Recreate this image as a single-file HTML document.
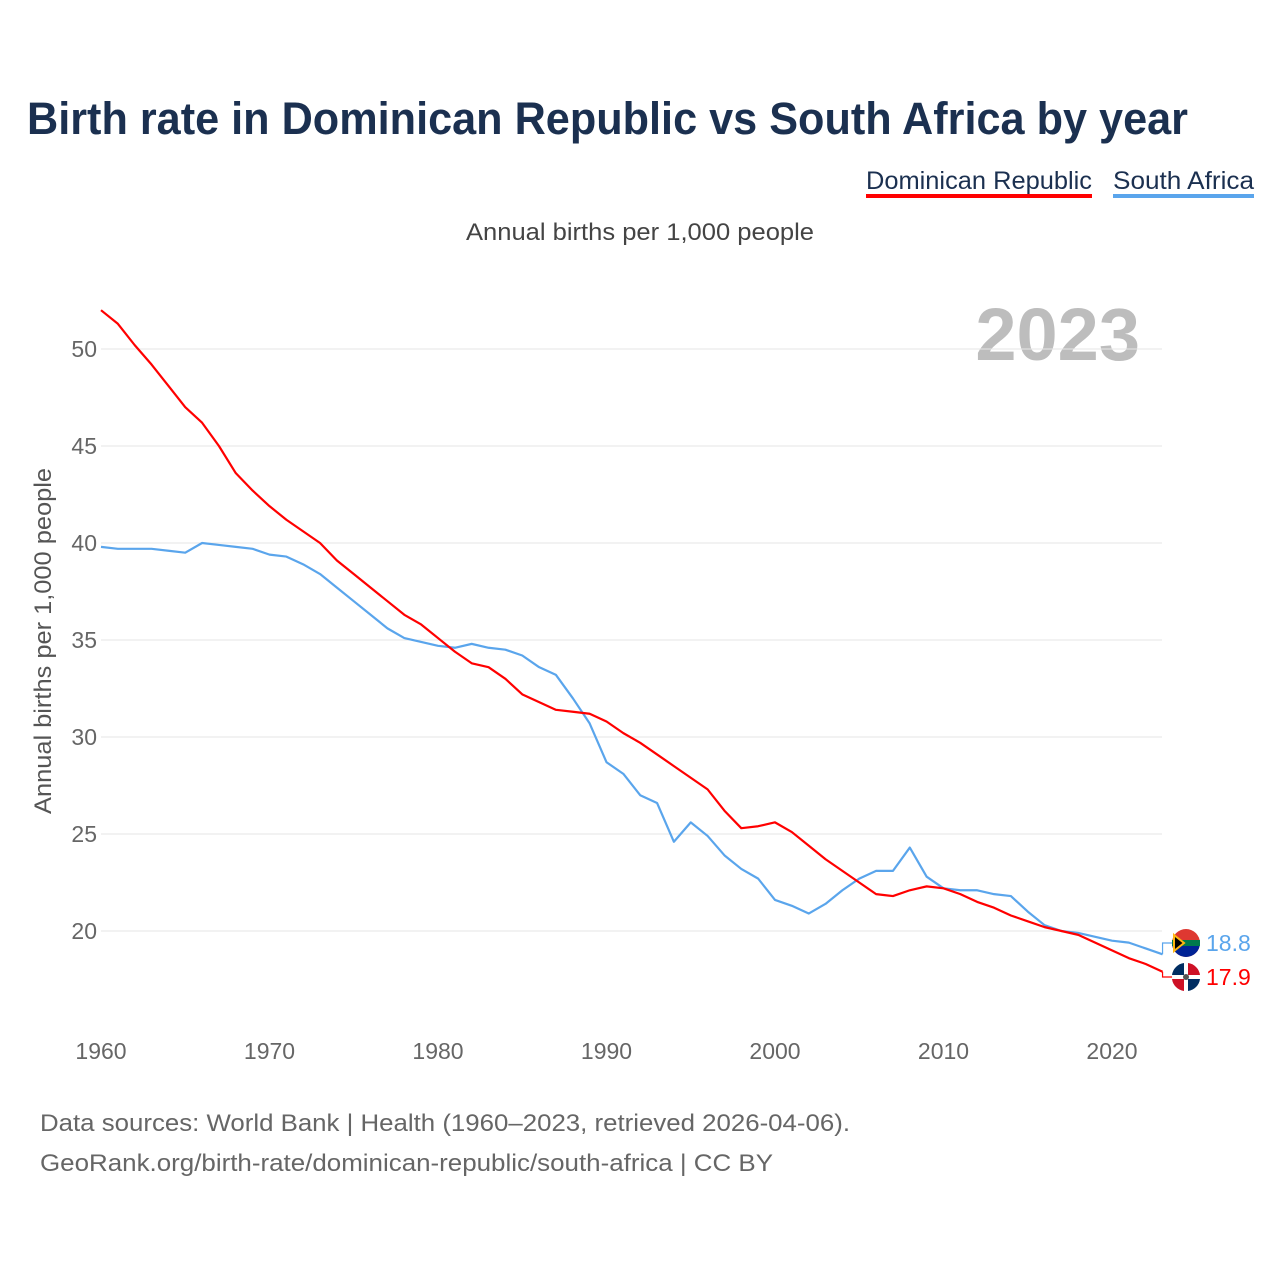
<!DOCTYPE html>
<html><head><meta charset="utf-8"><style>
body{margin:0;background:#fff;font-family:"Liberation Sans",sans-serif}
</style></head><body>
<svg width="1280" height="1280" viewBox="0 0 1280 1280" id="chart" xmlns="http://www.w3.org/2000/svg" style="font-family:'Liberation Sans',sans-serif">
<text x="27" y="134" font-size="45" font-weight="bold" fill="#1b3050" textLength="1161" lengthAdjust="spacingAndGlyphs">Birth rate in Dominican Republic vs South Africa by year</text>
<g>
<text x="866" y="189" font-size="25" fill="#1b3050" textLength="226" lengthAdjust="spacingAndGlyphs">Dominican Republic</text>
<rect x="866" y="194" width="226" height="4" fill="#ff0000"/></g>
<g>
<text x="1113" y="189" font-size="25" fill="#1b3050" textLength="141" lengthAdjust="spacingAndGlyphs">South Africa</text>
<rect x="1113" y="194" width="141" height="4" fill="#5aa5ec"/></g>
<text x="466" y="240" font-size="24" fill="#444" textLength="348" lengthAdjust="spacingAndGlyphs">Annual births per 1,000 people</text>
<text x="1140" y="360" font-size="74" font-weight="bold" fill="#bdbdbd" text-anchor="end">2023</text>
<text transform="translate(51,814) rotate(-90)" font-size="24" fill="#555" textLength="346" lengthAdjust="spacingAndGlyphs">Annual births per 1,000 people</text>
<g id="grid"></g><g id="lines"></g><g id="ends"></g>
<text x="40" y="1131" font-size="24" fill="#666" textLength="810" lengthAdjust="spacingAndGlyphs">Data sources: World Bank | Health (1960–2023, retrieved 2026-04-06).</text>
<text x="40" y="1171" font-size="24" fill="#666" textLength="733" lengthAdjust="spacingAndGlyphs">GeoRank.org/birth-rate/dominican-republic/south-africa | CC BY</text>
</svg>
<script>
const years=[];for(let y=1960;y<=2023;y++)years.push(y);
const dominican=[52.0,51.3,50.2,49.2,48.1,47.0,46.2,45.0,43.6,42.7,41.9,41.2,40.6,40.0,39.1,38.4,37.7,37.0,36.3,35.8,35.1,34.4,33.8,33.6,33.0,32.2,31.8,31.4,31.3,31.2,30.8,30.2,29.7,29.1,28.5,27.9,27.3,26.2,25.3,25.4,25.6,25.1,24.4,23.7,23.1,22.5,21.9,21.8,22.1,22.3,22.2,21.9,21.5,21.2,20.8,20.5,20.2,20.0,19.8,19.4,19.0,18.6,18.3,17.9];
const southAfrica=[39.8,39.7,39.7,39.7,39.6,39.5,40.0,39.9,39.8,39.7,39.4,39.3,38.9,38.4,37.7,37.0,36.3,35.6,35.1,34.9,34.7,34.6,34.8,34.6,34.5,34.2,33.6,33.2,32.0,30.7,28.7,28.1,27.0,26.6,24.6,25.6,24.9,23.9,23.2,22.7,21.6,21.3,20.9,21.4,22.1,22.7,23.1,23.1,24.3,22.8,22.2,22.1,22.1,21.9,21.8,21.0,20.3,20.0,19.9,19.7,19.5,19.4,19.1,18.8];
const yTicks=[20,25,30,35,40,45,50];
const xTicks=[1960,1970,1980,1990,2000,2010,2020];
const NS="http://www.w3.org/2000/svg";
const X=y=>101+(y-1960)*1011/60;
const Y=v=>931-(v-20)*19.4;
function mk(t,a,p){const e=document.createElementNS(NS,t);for(const k in a)e.setAttribute(k,a[k]);p.appendChild(e);return e;}
const grid=document.getElementById('grid');
yTicks.forEach(v=>{
 const l=mk('line',{x1:101,x2:1162,y1:Y(v),y2:Y(v),stroke:'#e6e6e6','stroke-width':1},grid);
 
 
 const t=mk('text',{x:97,y:Y(v)+8,'font-size':23,fill:'#666','text-anchor':'end'},grid);t.textContent=v;
 
 
});
xTicks.forEach(v=>{
 const t=mk('text',{x:X(v),y:1059,'font-size':23,fill:'#666','text-anchor':'middle'},grid);t.textContent=v;
 
 
});
const lines=document.getElementById('lines');
function series(d,c,n){
 const p=mk('polyline',{points:d.map((v,i)=>X(years[i])+','+Y(v)).join(' '),fill:'none',stroke:c,'stroke-width':2.2,'stroke-linejoin':'round'},lines);
 
 
}
series(southAfrica,'#5aa5ec','south-africa-line');
series(dominican,'#ff0000','dominican-republic-line');
const ends=document.getElementById('ends');
function endLabel(d,c,ly,n,flag){
 const v=d[d.length-1],x=X(2023),y=Y(v);
 mk('polyline',{points:`${x},${y} ${x},${ly} ${x+10},${ly}`,fill:'none',stroke:c,'stroke-width':1.2},ends);
 const g=mk('g',{},ends);
 
 
 flag(g,1186,ly);
 const t=mk('text',{x:1206,y:ly+8,'font-size':23,fill:c},ends);t.textContent=v.toFixed(1);
 
 
}
endLabel(southAfrica,'#5aa5ec',943,'south-africa',(g,cx,cy)=>{
 mk('circle',{cx,cy,r:14,fill:'#de3831'},g);
 mk('path',{d:`M${cx-14},${cy} h28 a14 14 0 0 1 -28 0z`,fill:'#002395'},g);
 mk('rect',{x:cx-14,y:cy-3,width:28,height:6,fill:'#007a4d'},g);
 mk('path',{d:`M${cx-12},${cy-8} L${cx-2},${cy} L${cx-12},${cy+8}z`,fill:'#000',stroke:'#ffb612','stroke-width':2},g);
});
endLabel(dominican,'#ff0000',977,'dominican-republic',(g,cx,cy)=>{
 mk('circle',{cx,cy,r:14,fill:'#fff'},g);
 mk('path',{d:`M${cx-14},${cy-2} a14 14 0 0 1 12 -12 v12z`,fill:'#002d62'},g);
 mk('path',{d:`M${cx+2},${cy-14} a14 14 0 0 1 12 12 h-12z`,fill:'#ce1126'},g);
 mk('path',{d:`M${cx-14},${cy+2} h12 v12 a14 14 0 0 1 -12 -12z`,fill:'#ce1126'},g);
 mk('path',{d:`M${cx+2},${cy+2} h12 a14 14 0 0 1 -12 12z`,fill:'#002d62'},g);
 mk('circle',{cx,cy,r:3,fill:'#555'},g);
});
</script>
</body></html>
